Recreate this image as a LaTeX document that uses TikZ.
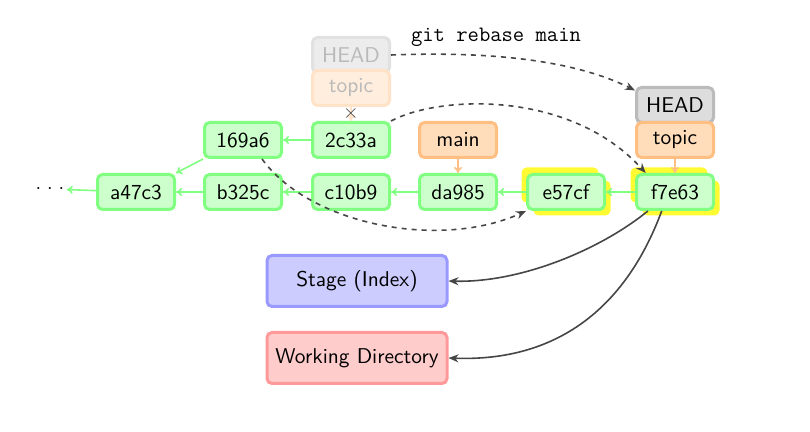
\documentclass[tikz,border=0pt]{standalone}
\usetikzlibrary{arrows.meta}
\definecolor{cgreenB}{RGB}{128,255,128}
\definecolor{cgreenF}{RGB}{204,255,204}
\definecolor{corangeB}{RGB}{255,190,130}
\definecolor{corangeF}{RGB}{255,221,187}
\definecolor{cgrayB}{RGB}{187,187,187}
\definecolor{cgrayF}{RGB}{221,221,221}
\definecolor{cfgrayB}{RGB}{225,225,225}
\definecolor{cfgrayF}{RGB}{236,236,236}
\definecolor{cforangeB}{RGB}{255,226,200}
\definecolor{cforangeF}{RGB}{255,238,222}
\definecolor{cfadetext}{RGB}{185,185,185}
\definecolor{cblueB}{RGB}{153,153,255}
\definecolor{cblueF}{RGB}{204,204,255}
\definecolor{credB}{RGB}{255,153,153}
\definecolor{credF}{RGB}{255,204,204}
\definecolor{cyellow}{RGB}{255,250,50}
\definecolor{cdark}{RGB}{70,70,70}
\begin{document}
\begin{tikzpicture}[x=0.5pt,y=-0.5pt,
  box/.style={rounded corners=2.5pt,line width=1.5pt,minimum width=38.5pt,minimum height=17.5pt,inner sep=0pt,font=\sffamily\fontsize{10.7}{13}\selectfont},
  commit/.style={box,draw=cgreenB,fill=cgreenF},
  shadowbox/.style={rounded corners=2.5pt,fill=cyellow,minimum width=38.5pt,minimum height=17.5pt,inner sep=0pt},
  branch/.style={box,draw=corangeB,fill=corangeF},
  headbox/.style={box,draw=cgrayB,fill=cgrayF},
  fhead/.style={box,draw=cfgrayB,fill=cfgrayF,text=cfadetext},
  fbranch/.style={box,draw=cforangeB,fill=cforangeF,text=cfadetext},
  area/.style={box,minimum width=90pt,minimum height=25.5pt},
  parent/.style={draw=cgreenB,line width=0.8pt,-{To[length=3pt,width=4pt]}},
  bref/.style={draw=corangeB,line width=0.8pt,-{To[length=3pt,width=4pt]}},
  fbref/.style={draw=cforangeB,line width=0.8pt,-{To[length=3pt,width=4pt]}},
  moved/.style={draw=cdark,line width=0.8pt,dash pattern=on 2.5pt off 2.5pt,-{Stealth[length=5pt,width=4pt]}},
  checkout/.style={draw=cdark,line width=0.8pt,-{Stealth[length=5pt,width=4pt]}}]
\useasboundingbox (0,0) rectangle (810,432);
% yellow highlights
\node[shadowbox] (shEa) at (560,185) {};
\node[shadowbox] (shEb) at (572,198) {};
\node[shadowbox] (shFa) at (669,185) {};
\node[shadowbox] (shFb) at (681,198) {};
% commits
\node[commit] (a47c3) at (136,192) {a47c3};
\node[commit] (b325c) at (243,192) {b325c};
\node[commit] (c10b9) at (351,192) {c10b9};
\node[commit] (da985) at (458,192) {da985};
\node[commit] (e57cf) at (566,192) {e57cf};
\node[commit] (f7e63) at (675,192) {f7e63};
\node[commit] (169a6) at (243,140) {169a6};
\node[commit] (2c33a) at (351,140) {2c33a};
\node[inner sep=1pt] (dots) at (50,189) {\hbox{$\cdot$\hspace{3pt}$\cdot$\hspace{3pt}$\cdot$}};
% branches
\node[branch] (main) at (458,140) {main};
\node[fhead] (HEADo) at (351,55) {HEAD};
\node[fbranch] (topico) at (351,88) {topic};
\node[headbox] (HEADn) at (675,105) {HEAD};
\node[branch] (topicn) at (675,140) {topic};
% areas
\node[area,draw=cblueB,fill=cblueF] (stage) at (357,281) {Stage (Index)};
\node[area,draw=credB,fill=credF] (wd) at (357,358) {Working Directory};
% title
\node[font=\ttfamily\fontsize{11}{13}\selectfont] (cmd) at (496,37) {git rebase main};
% parent arrows
\draw[parent] (a47c3) -- (dots);
\draw[parent] (b325c) -- (a47c3);
\draw[parent] (c10b9) -- (b325c);
\draw[parent] (da985) -- (c10b9);
\draw[parent] (e57cf) -- (da985);
\draw[parent] (f7e63) -- (e57cf);
\draw[parent] (2c33a) -- (169a6);
\draw[parent] (169a6.south west) -- (a47c3.north east);
% branch arrows
\draw[bref] (main) -- (da985);
\draw[bref] (topicn) -- (f7e63);
\draw[fbref] (topico) -- (2c33a);
\node[text=cdark,inner sep=0pt] (cross) at (351,114) {$\times$};
% moved arrows
\draw[moved] (HEADo.east) .. controls (520,50) and (590,68) .. (HEADn.160);
\draw[moved] (2c33a.north east) .. controls (440,95) and (570,90) .. (f7e63.147);
\draw[moved] (169a6.-45) .. controls (310,225) and (440,250) .. (e57cf.south west);
% checkout arrows
\draw[checkout] (f7e63.-145) .. controls (600,250) and (520,283) .. (stage.east);
\draw[checkout] (f7e63.-125) .. controls (625,310) and (555,362) .. (wd.east);
\end{tikzpicture}
\end{document}
